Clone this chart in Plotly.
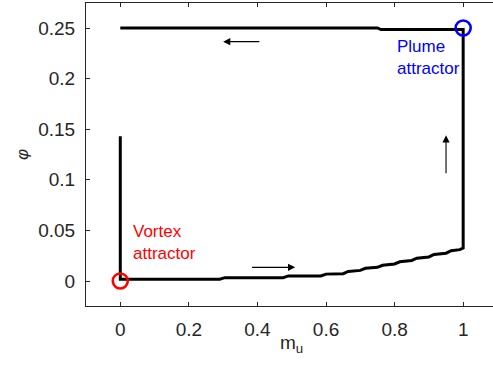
import plotly.graph_objects as go

# trajectory in (m_u, phi)
path_mu = [0, 0, 0.29, 0.305, 0.475, 0.49, 0.585, 0.60, 0.65, 0.665, 0.70, 0.715, 0.75, 0.765,
           0.80, 0.815, 0.85, 0.865, 0.90, 0.915, 0.95, 0.965, 0.99, 1.0, 1.0, 0.76, 0.75, 0.0]
path_phi = [0.143, 0.0017, 0.0017, 0.0033, 0.0033, 0.005, 0.005, 0.0068, 0.0072, 0.0095, 0.0105,
            0.0125, 0.0135, 0.0155, 0.0168, 0.019, 0.0203, 0.0225, 0.0238, 0.0262, 0.0275, 0.030,
            0.031, 0.0325, 0.2485, 0.2485, 0.25, 0.25]

# attractors
attr_mu = [0, 1]
attr_phi = [0, 0.25]
attr_colors = ["#ff0000", "#0000ff"]
attr_labels = ["Vortex<br>attractor", "Plume<br>attractor"]
label_mu = [0.03, 0.8]
label_phi = [0.0385, 0.2205]

# direction arrows: (tail_mu, tail_phi, head_mu, head_phi)
arrow_tail_mu = [0.38, 0.41, 0.95]
arrow_tail_phi = [0.0135, 0.2365, 0.105]
arrow_head_mu = [0.51, 0.30, 0.95]
arrow_head_phi = [0.0135, 0.2365, 0.144]

x_ticks = [0, 0.2, 0.4, 0.6, 0.8, 1]
x_ticklabels = ["0", "0.2", "0.4", "0.6", "0.8", "1"]
y_ticks = [0, 0.05, 0.1, 0.15, 0.2, 0.25]
y_ticklabels = ["0", "0.05", "0.1", "0.15", "0.2", "0.25"]

fig = go.Figure()
fig.add_trace(go.Scatter(x=path_mu, y=path_phi, mode="lines",
                         line=dict(color="black", width=3), showlegend=False, hoverinfo="skip"))
for mu, ph, c in zip(attr_mu, attr_phi, attr_colors):
    fig.add_trace(go.Scatter(x=[mu], y=[ph], mode="markers",
                             marker=dict(symbol="circle-open", size=15, color=c, line=dict(width=2.6, color=c)),
                             showlegend=False, hoverinfo="skip", cliponaxis=False))

annotations = []
for txt, mu, ph, c in zip(attr_labels, label_mu, label_phi, attr_colors):
    annotations.append(dict(x=mu, y=ph, xref="x", yref="y", text=txt, showarrow=False,
                            xanchor="left", yanchor="middle", align="left",
                            font=dict(family="Liberation Sans, Arial", size=17, color=c)))
for tx, ty, hx, hy in zip(arrow_tail_mu, arrow_tail_phi, arrow_head_mu, arrow_head_phi):
    annotations.append(dict(x=hx, y=hy, ax=tx, ay=ty, xref="x", yref="y", axref="x", ayref="y",
                            text="", showarrow=True, arrowhead=2, arrowsize=1.3, arrowwidth=1.1,
                            arrowcolor="black"))
# x-axis title (centred on the full [-0.1, 1.1] axis as in the reference)
annotations.append(dict(x=0.5, y=-0.125, xref="x", yref="paper", text="m<sub>u</sub>", showarrow=False,
                        xanchor="center", yanchor="middle",
                        font=dict(family="Liberation Sans, Arial", size=19, color="#262626")))

fig.update_layout(
    width=493, height=378,
    margin=dict(l=86, r=0, t=3, b=72),
    plot_bgcolor="white", paper_bgcolor="white",
    annotations=annotations,
    font=dict(family="Liberation Sans, Arial", size=19, color="#262626"),
)
fig.update_xaxes(range=[-0.1, 1.087], tickvals=x_ticks, ticktext=x_ticklabels,
                 showgrid=False, zeroline=False, showline=True, linecolor="#262626", linewidth=1,
                 mirror="ticks", ticks="inside", ticklen=4, tickcolor="#262626",
                 tickfont=dict(size=19, color="#262626"), ticklabelstandoff=6)
fig.update_yaxes(range=[-0.0247, 0.2747], tickvals=y_ticks, ticktext=y_ticklabels,
                 showgrid=False, zeroline=False, showline=True, linecolor="#262626", linewidth=1,
                 ticks="inside", ticklen=4, tickcolor="#262626",
                 tickfont=dict(size=19, color="#262626"), ticklabelstandoff=6,
                 title=dict(text="<i>φ</i>", font=dict(size=17, color="#262626"), standoff=5))

fig.write_html("out.html", config={"displayModeBar": False},
               post_script="document.body.style.margin='0px';")
